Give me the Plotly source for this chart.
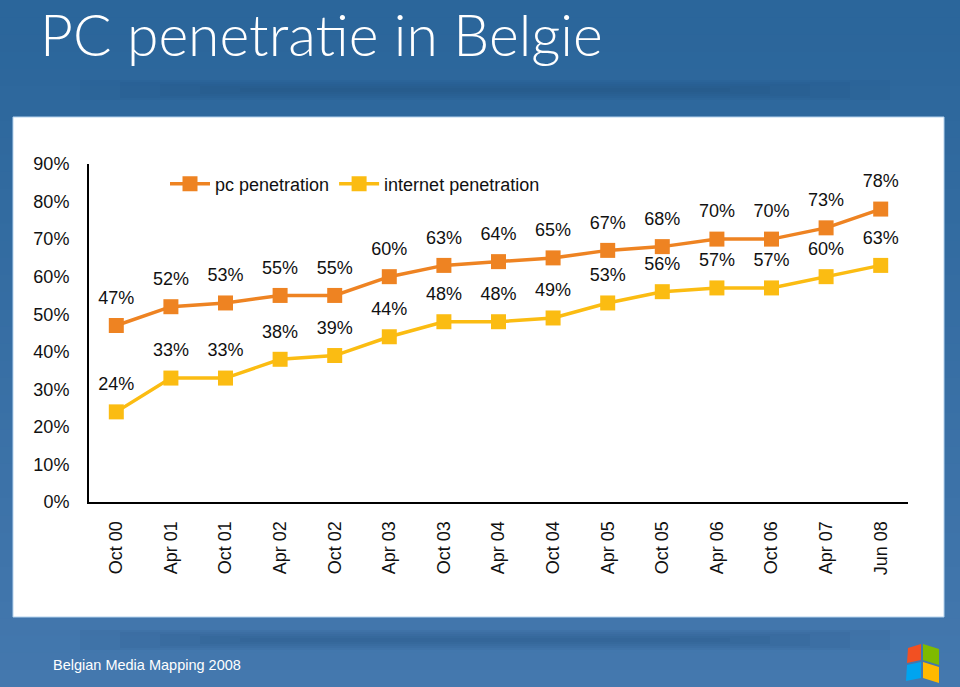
import plotly.graph_objects as go

categories = ["Oct 00", "Apr 01", "Oct 01", "Apr 02", "Oct 02", "Apr 03", "Oct 03", "Apr 04",
              "Oct 04", "Apr 05", "Oct 05", "Apr 06", "Oct 06", "Apr 07", "Jun 08"]
pc_penetration = [47, 52, 53, 55, 55, 60, 63, 64, 65, 67, 68, 70, 70, 73, 78]
internet_penetration = [24, 33, 33, 38, 39, 44, 48, 48, 49, 53, 56, 57, 57, 60, 63]
y_ticks = [0, 10, 20, 30, 40, 50, 60, 70, 80, 90]
y_tick_labels = [f"{v}%" for v in y_ticks]

W, H = 960, 687
L, R, T, B = 89, 908, 164, 502  # plot area in pixels


def px(x):
    return (x - L) / (R - L)


def py(y):
    return (B - y) / (B - T)


FONT = "Liberation Sans, Arial, sans-serif"
PC_COLOR = "#EE8322"
NET_COLOR = "#FBBC12"
TXT = "#111111"

fig = go.Figure()
for name, vals, col in [("pc penetration", pc_penetration, PC_COLOR),
                        ("internet penetration", internet_penetration, NET_COLOR)]:
    fig.add_trace(go.Scatter(
        x=categories, y=vals, name=name, mode="lines+markers",
        line=dict(color=col, width=3.5),
        marker=dict(symbol="square", size=15, color=col),
        cliponaxis=False,
    ))
for vals in [pc_penetration, internet_penetration]:
    # data labels (invisible larger marker to push labels further above the points)
    fig.add_trace(go.Scatter(
        x=categories, y=vals, mode="markers+text", showlegend=False, hoverinfo="skip",
        marker=dict(symbol="square", size=26, color="rgba(0,0,0,0)"),
        text=[f"{v}%" for v in vals], textposition="top center",
        textfont=dict(family=FONT, size=18, color=TXT),
        cliponaxis=False,
    ))

shapes = []
# background gradient bands
top_col = (43, 102, 155)
bot_col = (68, 120, 174)
n = 40
for i in range(n):
    t = i / (n - 1)
    c = tuple(int(top_col[k] + (bot_col[k] - top_col[k]) * t) for k in range(3))
    y0 = H * i / n
    y1 = H * (i + 1) / n + 1
    shapes.append(dict(type="rect", xref="paper", yref="paper", layer="below",
                       x0=px(0), x1=px(W), y0=py(y1), y1=py(y0),
                       fillcolor=f"rgb{c}", line=dict(width=0)))
# soft darker shadow strips
for (ya, yb) in [(80, 100), (630, 650)]:
    for k in range(5):
        inset = k * 40
        shapes.append(dict(type="rect", xref="paper", yref="paper", layer="below",
                           x0=px(80 + inset), x1=px(890 - inset),
                           y0=py(yb - k * 2), y1=py(ya + k * 2),
                           fillcolor="rgba(25,65,115,0.07)", line=dict(width=0)))
# white panel
shapes.append(dict(type="rect", xref="paper", yref="paper", layer="below",
                   x0=px(13), x1=px(944), y0=py(617), y1=py(117),
                   fillcolor="white", line=dict(color="#b5d3ee", width=1)))

# windows logo (approximation)
logo = [
    ("#F25022", [(908, 648), (921, 644), (921, 660), (907, 663)]),
    ("#7FBA00", [(923, 644), (939, 649), (939, 665), (923, 660)]),
    ("#00A4EF", [(907, 665), (921, 662), (921, 678), (906, 681)]),
    ("#FFB900", [(923, 662), (939, 667), (939, 683), (923, 678)]),
]
for col, pts in logo:
    path = "M " + " L ".join(f"{px(a):.5f},{py(b):.5f}" for a, b in pts) + " Z"
    shapes.append(dict(type="path", xref="paper", yref="paper", path=path,
                       fillcolor=col, line=dict(width=0), layer="above"))

annotations = [
    dict(text="PC penetratie in Belgie", xref="paper", yref="paper",
         x=px(38), y=py(34), xanchor="left", yanchor="middle", showarrow=False,
         font=dict(family="Lato, Open Sans, sans-serif", size=57, color="white", weight=300)),
    dict(text="Belgian Media Mapping 2008", xref="paper", yref="paper",
         x=px(51), y=py(665), xanchor="left", yanchor="middle", showarrow=False,
         font=dict(family="Liberation Sans Narrow, Arial Narrow, Liberation Sans, sans-serif",
                   size=14.5, color="white")),
]

fig.update_layout(
    width=W, height=H,
    margin=dict(l=L, r=W - R, t=T, b=H - B, pad=0),
    paper_bgcolor="rgb(52,105,160)",
    plot_bgcolor="rgba(0,0,0,0)",
    shapes=shapes,
    annotations=annotations,
    showlegend=True,
    legend=dict(orientation="h", x=px(165), y=py(184), xanchor="left", yanchor="middle",
                font=dict(family=FONT, size=18, color=TXT),
                bgcolor="rgba(0,0,0,0)", itemwidth=40, traceorder="normal"),
    font=dict(family=FONT),
)
fig.update_xaxes(
    type="category", range=[-0.5, len(categories) - 0.5],
    showline=True, linecolor="black", linewidth=2,
    showgrid=False, zeroline=False, ticks="",
    tickangle=-90, tickfont=dict(family=FONT, size=18, color=TXT),
    ticklabelstandoff=10,
)
fig.update_yaxes(
    range=[0, 90], tickvals=y_ticks, ticktext=y_tick_labels,
    showline=True, linecolor="black", linewidth=2,
    showgrid=False, zeroline=False, ticks="",
    tickfont=dict(family=FONT, size=18, color=TXT),
    ticklabelstandoff=14,
)

fig.write_html(
    "out.html",
    config={"displayModeBar": False},
    post_script="document.body.style.margin='0';document.body.style.padding='0';"
                "document.body.style.overflow='hidden';",
)
